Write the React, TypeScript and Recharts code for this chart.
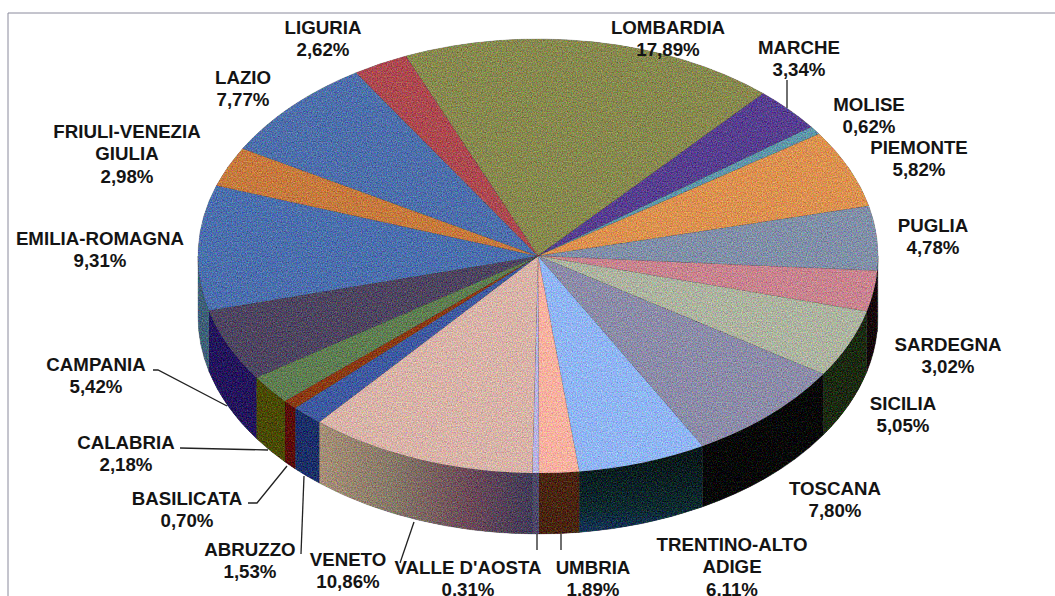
import React from 'react';
import { PieChart, Pie } from 'recharts';

const W = 1055;
const H = 596;
const CX = 538;
const CY = 256;
const RX = 340;
const RY = 217;
const DEPTH = 61;
const START = 112.9;

const REGIONS = [
  'LOMBARDIA', 'MARCHE', 'MOLISE', 'PIEMONTE', 'PUGLIA', 'SARDEGNA', 'SICILIA', 'TOSCANA',
  'TRENTINO-ALTO ADIGE', 'UMBRIA', "VALLE D'AOSTA", 'VENETO', 'ABRUZZO', 'BASILICATA',
  'CALABRIA', 'CAMPANIA', 'EMILIA-ROMAGNA', 'FRIULI-VENEZIA GIULIA', 'LAZIO', 'LIGURIA',
];
const SHARES = [
  17.89, 3.34, 0.62, 5.82, 4.78, 3.02, 5.05, 7.8, 6.11, 1.89, 0.31, 10.86, 1.53, 0.7, 2.18,
  5.42, 9.31, 2.98, 7.77, 2.62,
];

const TOP_COLORS = [
  '#87894f', '#573f8f', '#5f96aa', '#dc9150', '#818fa8', '#c8848f', '#adb3a0', '#8c8ca8',
  '#90b5f5', '#fab1a0', '#b9b4e2', '#d8b3a8', '#3f5aa0', '#8a3a14', '#5f7d52', '#4e4560',
  '#4c6fad', '#c67a3e', '#4e6fab', '#ac4a50',
];
const WALL_COLORS = [
  '#444', '#333', '#333', '#444', '#3a3f4a', '#140306', '#1b2a10', '#040404',
  'url(#trentinoWall)', '#4a2510', '#4e4868', 'url(#venetoWall)', '#1c2f68', '#5a0c08',
  '#4a4a00', '#24155c', '#3f6078', '#444', '#444', '#444',
];

// label layout, kept apart from the data: centre x, y of first line
const LABEL_AT: Record<string, [number, number]> = {
  LOMBARDIA: [668, 27],
  MARCHE: [799, 47],
  MOLISE: [869, 104],
  PIEMONTE: [919, 147],
  PUGLIA: [933, 225],
  SARDEGNA: [948, 344],
  SICILIA: [903, 403],
  TOSCANA: [835, 488],
  'TRENTINO-ALTO ADIGE': [732, 544],
  UMBRIA: [593, 567],
  "VALLE D'AOSTA": [468, 567],
  VENETO: [348, 559],
  ABRUZZO: [250, 549],
  BASILICATA: [187, 498],
  CALABRIA: [126, 442],
  CAMPANIA: [96, 364],
  'EMILIA-ROMAGNA': [100, 238],
  'FRIULI-VENEZIA GIULIA': [127, 131],
  LAZIO: [243, 77],
  LIGURIA: [323, 27],
};
const LINE_BREAKS: Record<string, string[]> = {
  'TRENTINO-ALTO ADIGE': ['TRENTINO-ALTO', 'ADIGE'],
  'FRIULI-VENEZIA GIULIA': ['FRIULI-VENEZIA', 'GIULIA'],
};
const LEADERS: Record<string, string> = {
  MARCHE: '787,80 787,108',
  UMBRIA: '561,534 561,550',
  "VALLE D'AOSTA": '537,534 537,550',
  VENETO: '400,563 414,522',
  ABRUZZO: '301,554 304,476',
  BASILICATA: '248,503 257,503 287,466',
  CALABRIA: '180,448 268,450',
  CAMPANIA: '153,370 158,370 227,406',
};

const tableTop = REGIONS.map((name, i) => ({ name, value: SHARES[i], fill: TOP_COLORS[i] }));
const tableWall = REGIONS.map((name, i) => ({ name, value: SHARES[i], fill: WALL_COLORS[i] }));

const pt = (deg: number, dy = 0) => {
  const r = (deg * Math.PI) / 180;
  return `${CX + RX * Math.cos(r)} ${CY + dy - RY * Math.sin(r)}`;
};

const TopSlice = (props: any) => {
  const { startAngle, endAngle, fill } = props;
  const large = Math.abs(startAngle - endAngle) > 180 ? 1 : 0;
  const d = `M${CX} ${CY} L${pt(startAngle)} A${RX} ${RY} 0 ${large} 1 ${pt(endAngle)} Z`;
  return <path d={d} fill={fill} stroke={fill} strokeWidth={0.5} filter="url(#grain)" />;
};

// only the front half of the rim can be seen
const WallSlice = (props: any) => {
  const a = Math.min(props.startAngle, 0);
  const b = Math.max(props.endAngle, -180);
  if (a <= b) return <g />;
  const d =
    `M${pt(a)} A${RX} ${RY} 0 0 1 ${pt(b)} L${pt(b, DEPTH)} ` +
    `A${RX} ${RY} 0 0 0 ${pt(a, DEPTH)} Z`;
  return <path d={d} fill={props.fill} stroke={props.fill} strokeWidth={0.5} filter="url(#grain)" />;
};

const renderLabel = (props: any) => {
  const name: string = props.name;
  const [x, y] = LABEL_AT[name];
  const lines = LINE_BREAKS[name] || [name];
  const pct = SHARES[REGIONS.indexOf(name)].toFixed(2).replace('.', ',') + '%';
  return (
    <g>
      {LEADERS[name] && (
        <polyline points={LEADERS[name]} fill="none" stroke="#222" strokeWidth={1.3} />
      )}
      <text
        x={x}
        y={y}
        textAnchor="middle"
        fontFamily="'Liberation Sans', Arial, sans-serif"
        fontWeight={700}
        fontSize={18.7}
        fill="#141414"
      >
        {[...lines, pct].map((t, i) => (
          <tspan key={t} x={x} dy={i === 0 ? 6.5 : 22.5}>
            {t}
          </tspan>
        ))}
      </text>
    </g>
  );
};

export default function App() {
  return (
    <div style={{ position: 'absolute', left: 0, top: 0, width: W, height: H, overflow: 'hidden', background: '#fff' }}>
      <PieChart width={W} height={H} margin={{ top: 0, right: 0, bottom: 0, left: 0 }}>
        <defs>
          <linearGradient id="venetoWall" gradientUnits="userSpaceOnUse" x1="316" y1="0" x2="536" y2="0">
            <stop offset="0" stopColor="#a89078" />
            <stop offset="0.35" stopColor="#867868" />
            <stop offset="0.7" stopColor="#6b4a58" />
            <stop offset="1" stopColor="#3f3a58" />
          </linearGradient>
          <linearGradient id="trentinoWall" gradientUnits="userSpaceOnUse" x1="0" y1="460" x2="0" y2="530">
            <stop offset="0" stopColor="#07191a" />
            <stop offset="0.7" stopColor="#0c2a30" />
            <stop offset="1" stopColor="#143254" />
          </linearGradient>
          <filter id="grain" filterUnits="userSpaceOnUse" x="0" y="0" width={W} height={H} colorInterpolationFilters="sRGB">
            <feTurbulence type="fractalNoise" baseFrequency="0.8" numOctaves={2} seed={4} result="n" />
            <feColorMatrix
              in="n"
              type="matrix"
              values="1 0 0 0 0  0 1 0 0 0  0 0 1 0 0  0 0 0 0 1"
              result="opaque"
            />
            <feComposite in="SourceGraphic" in2="opaque" operator="arithmetic" k1="0" k2="1" k3="0.6" k4="-0.3" result="mix" />
            <feComposite in="mix" in2="SourceAlpha" operator="in" />
          </filter>
        </defs>
        <line x1={8} y1={13} x2={W} y2={13} stroke="#8a8a9c" strokeWidth={1} />
        <line x1={8} y1={13} x2={8} y2={H} stroke="#8a8a9c" strokeWidth={1} />
        <Pie
          data={tableWall}
          dataKey="value"
          nameKey="name"
          cx={CX}
          cy={CY}
          innerRadius={0}
          outerRadius={RX}
          startAngle={START}
          endAngle={START - 360}
          shape={WallSlice}
          inactiveShape={WallSlice}
          stroke="none"
          label={false}
          labelLine={false}
          isAnimationActive={false}
        />
        <Pie
          data={tableTop}
          dataKey="value"
          nameKey="name"
          cx={CX}
          cy={CY}
          innerRadius={0}
          outerRadius={RX}
          startAngle={START}
          endAngle={START - 360}
          shape={TopSlice}
          inactiveShape={TopSlice}
          stroke="none"
          label={renderLabel}
          labelLine={false}
          isAnimationActive={false}
        />
      </PieChart>
    </div>
  );
}
